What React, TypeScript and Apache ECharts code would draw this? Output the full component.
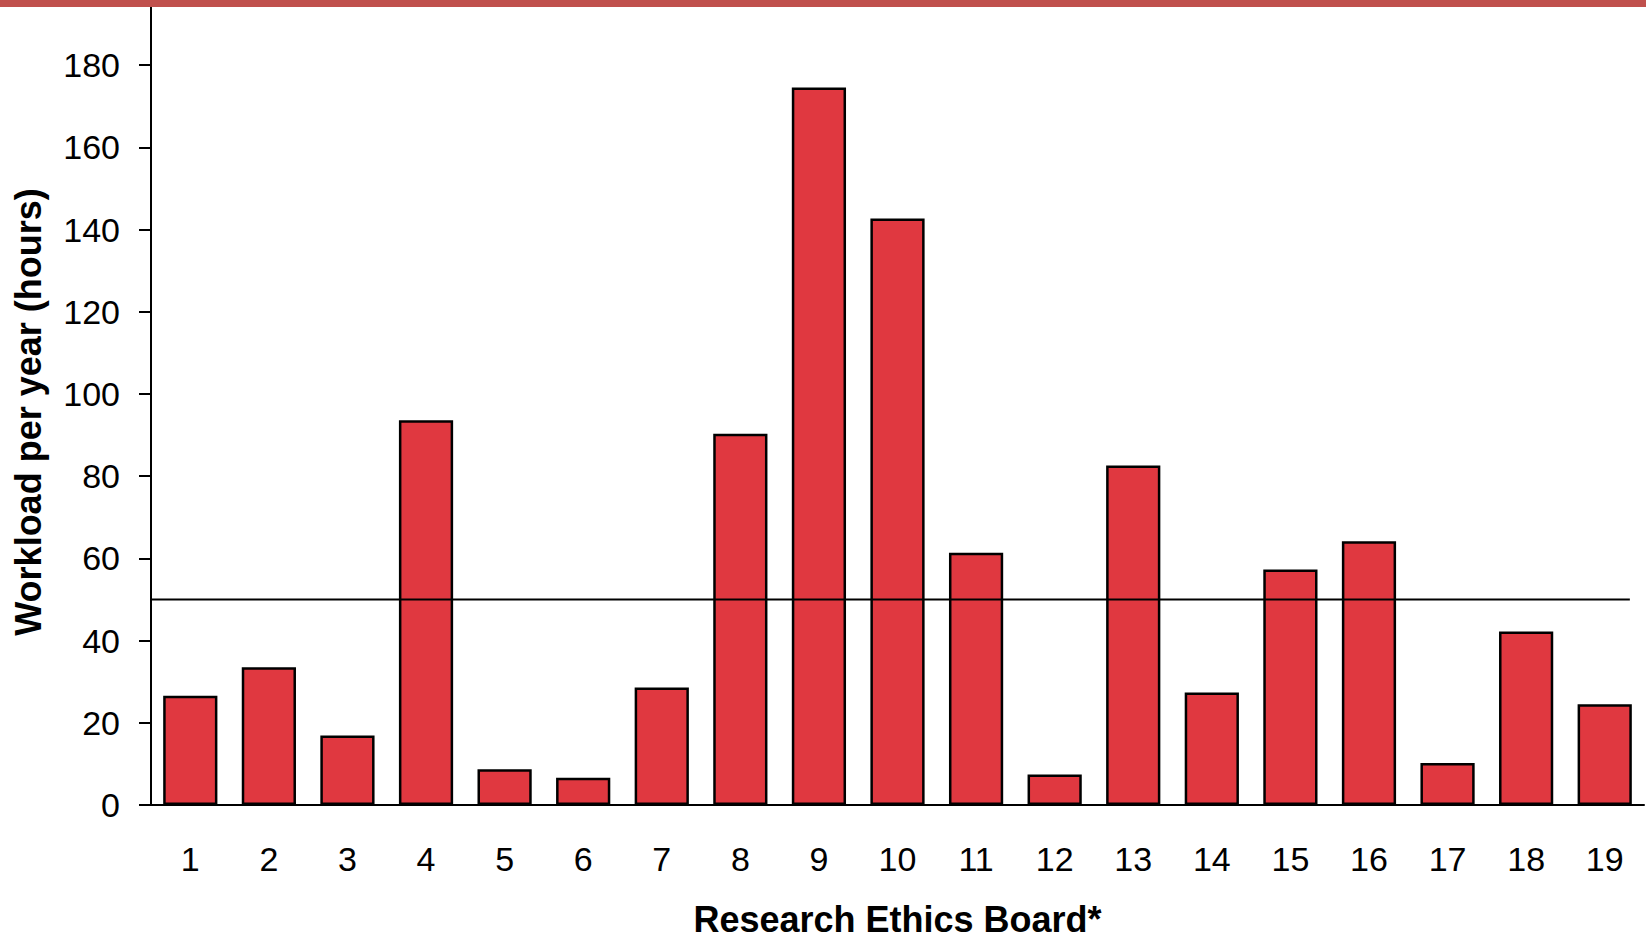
import React, { useEffect, useRef } from "react";
import * as echarts from "echarts";

const categories = ["1","2","3","4","5","6","7","8","9","10","11","12","13","14","15","16","17","18","19"];
const workload = [26.6, 33.5, 16.9, 93.6, 8.7, 6.6, 28.6, 90.3, 174.6, 142.7, 61.4, 7.4, 82.6, 27.4, 57.3, 64.2, 10.2, 42.2, 24.5];
const yTicks = [0, 20, 40, 60, 80, 100, 120, 140, 160, 180];
const referenceValue = 50;
const referenceSpan = [-0.1, 18.82];

export default function App() {
  const ref = useRef<HTMLDivElement>(null);
  useEffect(() => {
    if (!ref.current) return;
    const chart = echarts.init(ref.current, null, { renderer: "svg" });
    const font = "'Liberation Sans', Arial, sans-serif";
    chart.setOption({
      animation: false,
      backgroundColor: "#ffffff",
      grid: { left: 151, right: 2, top: -17, bottom: 132, containLabel: false, outerBoundsMode: "none" },
      xAxis: [
        {
          type: "category",
          data: categories,
          axisLine: { show: true, lineStyle: { color: "#000", width: 2 } },
          axisTick: { show: false },
          axisLabel: { color: "#000", fontSize: 34, fontFamily: font, margin: 37 },
          name: "Research Ethics Board*",
          nameLocation: "middle",
          nameGap: 96,
          nameTextStyle: { color: "#000", fontSize: 36, fontWeight: "bold", fontFamily: font },
        },
        {
          type: "value",
          min: 0,
          max: 19,
          show: false,
        },
      ],
      yAxis: {
        type: "value",
        min: 0,
        max: 200,
        interval: 20,
        splitLine: { show: false },
        axisLine: { show: true, lineStyle: { color: "#000", width: 2 } },
        axisTick: { show: true, inside: false, length: 12, lineStyle: { color: "#000", width: 2 } },
        axisLabel: {
          color: "#000",
          fontSize: 34,
          fontFamily: font,
          margin: 31,
          formatter: (v: number) => (yTicks.indexOf(v) >= 0 ? String(v) : ""),
        },
      },
      graphic: [
        { type: "rect", shape: { x: 0, y: 0, width: 1646, height: 7 }, style: { fill: "#C0504D" }, z: 100 },
        {
          type: "text",
          x: 28,
          y: 412,
          rotation: Math.PI / 2,
          style: {
            text: "Workload per year (hours)",
            fill: "#000",
            font: `bold 36px ${font}`,
            align: "center",
            verticalAlign: "middle",
          },
          z: 100,
        },
      ],
      series: [
        {
          type: "bar",
          data: workload,
          xAxisIndex: 0,
          barCategoryGap: "31%",
          itemStyle: { color: "#E03840", borderColor: "#000", borderWidth: 2.5 },
        },
        {
          type: "line",
          xAxisIndex: 1,
          data: [[referenceSpan[0], referenceValue], [referenceSpan[1], referenceValue]],
          clip: false,
          symbol: "none",
          lineStyle: { color: "#000", width: 2 },
          z: 5,
        },
      ],
    });
    return () => chart.dispose();
  }, []);
  return <div ref={ref} style={{ position: "fixed", left: 0, top: 0, width: 1646, height: 937 }} />;
}
